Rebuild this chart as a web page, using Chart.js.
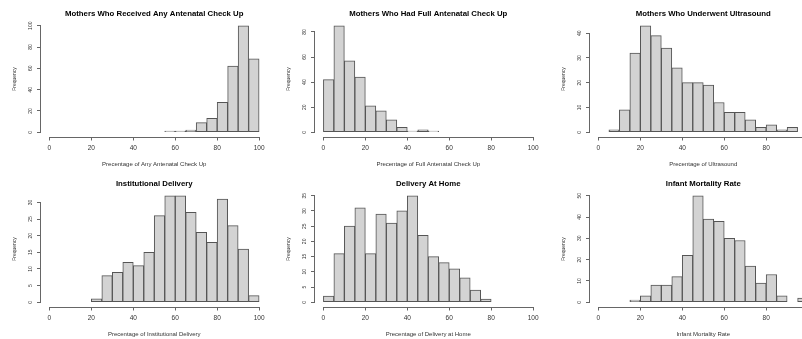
<!DOCTYPE html>
<html>
<head>
<meta charset="utf-8">
<script src="https://cdn.jsdelivr.net/npm/chart.js@4/dist/chart.umd.min.js"></script>
<style>
  body { margin: 0; background: #fff; width: 802px; height: 339px; overflow: hidden; position: relative; }
  .panel { position: absolute; width: 274px; height: 170px; }
</style>
</head>
<body>
<div class="panel" style="left:0;top:0"><canvas id="anc" width="274" height="170"></canvas></div>
<div class="panel" style="left:274px;top:0"><canvas id="fullAnc" width="274" height="170"></canvas></div>
<div class="panel" style="left:549px;top:0"><canvas id="usg" width="274" height="170"></canvas></div>
<div class="panel" style="left:0;top:170px"><canvas id="inst" width="274" height="170"></canvas></div>
<div class="panel" style="left:274px;top:170px"><canvas id="home" width="274" height="170"></canvas></div>
<div class="panel" style="left:549px;top:170px"><canvas id="imr" width="274" height="170"></canvas></div>
<script>
// Clases de ancho 5: limite inferior de cada clase y su frecuencia
var binWidth = 5;

var ancStarts = [55, 60, 65, 70, 75, 80, 85, 90, 95];
var ancCounts = [1, 1, 2, 9, 13, 28, 62, 100, 69];

var fullStarts = [0, 5, 10, 15, 20, 25, 30, 35, 40, 45, 50];
var fullCounts = [42, 85, 57, 44, 21, 17, 10, 4, 1, 2, 1];

var usgStarts = [5, 10, 15, 20, 25, 30, 35, 40, 45, 50, 55, 60, 65, 70, 75, 80, 85, 90];
var usgCounts = [1, 9, 32, 43, 39, 34, 26, 20, 20, 19, 12, 8, 8, 5, 2, 3, 1, 2];

var instStarts = [20, 25, 30, 35, 40, 45, 50, 55, 60, 65, 70, 75, 80, 85, 90, 95];
var instCounts = [1, 8, 9, 12, 11, 15, 26, 32, 32, 27, 21, 18, 31, 23, 16, 2];

var homeStarts = [0, 5, 10, 15, 20, 25, 30, 35, 40, 45, 50, 55, 60, 65, 70, 75];
var homeCounts = [2, 16, 25, 31, 16, 29, 26, 30, 35, 22, 15, 13, 11, 8, 4, 1];

var imrStarts = [15, 20, 25, 30, 35, 40, 45, 50, 55, 60, 65, 70, 75, 80, 85, 90, 95];
var imrCounts = [1, 3, 8, 8, 12, 22, 50, 39, 38, 30, 29, 17, 9, 13, 3, 0, 2];

// Marcas de los ejes
var xTicks = [0, 20, 40, 60, 80, 100];
var ancYTicks = [0, 20, 40, 60, 80, 100];
var fullYTicks = [0, 20, 40, 60, 80];
var usgYTicks = [0, 10, 20, 30, 40];
var instYTicks = [0, 5, 10, 15, 20, 25, 30];
var homeYTicks = [0, 5, 10, 15, 20, 25, 30, 35];
var imrYTicks = [0, 10, 20, 30, 40, 50];

var fuente = '"Liberation Sans", Arial, sans-serif';
Chart.defaults.font.family = fuente;

// Lineas de los ejes al estilo R: solo entre la primera y la ultima marca
var ejesR = {
    id: 'ejesR',
    afterDraw: function (chart) {
        var c = chart.ctx, sx = chart.scales.x, sy = chart.scales.y;
        var xt = sx.ticks, yt = sy.ticks;
        var by = Math.round(chart.chartArea.bottom) + 0.5;
        var lx = Math.round(chart.chartArea.left) - 0.5;
        c.save();
        c.strokeStyle = '#666';
        c.lineWidth = 1;
        c.beginPath();
        c.moveTo(sx.getPixelForValue(xt[0].value), by);
        c.lineTo(sx.getPixelForValue(xt[xt.length - 1].value), by);
        c.moveTo(lx, sy.getPixelForValue(yt[0].value));
        c.lineTo(lx, sy.getPixelForValue(yt[yt.length - 1].value));
        c.stroke();
        c.restore();
    }
};

function histograma(id, titulo, ejeX, starts, counts, yTicks) {
    var ctx = document.getElementById(id).getContext('2d');
    ctx.font = '5px ' + fuente;
    var widest = Math.max.apply(null, yTicks.map(function (v) { return ctx.measureText(String(v)).width; }));
    var ymax = Math.max.apply(null, counts);

    return new Chart(ctx, {
        type: 'bar',
        data: {
            datasets: [{
                data: starts.map(function (s, i) { return { x: s + binWidth / 2, y: counts[i] }; }),
                backgroundColor: '#d3d3d3',
                borderColor: '#555',
                borderWidth: 1,
                borderSkipped: false,
                barPercentage: 1,
                categoryPercentage: 1
            }]
        },
        options: {
            responsive: false,
            animation: false,
            events: [],
            layout: { padding: { left: 0, right: 6.5, top: 0, bottom: 0 } },
            plugins: {
                legend: { display: false },
                tooltip: { enabled: false },
                title: {
                    display: true,
                    fullSize: false,
                    text: titulo,
                    color: '#000',
                    font: { size: 7.8, weight: 'bold' },
                    padding: { top: 9.2, bottom: 2.9 }
                }
            },
            scales: {
                x: {
                    type: 'linear',
                    min: -4,
                    max: 104,
                    offset: false,
                    afterBuildTicks: function (s) { s.ticks = xTicks.map(function (v) { return { value: v }; }); },
                    afterFit: function (s) { s.height = 33.5; },
                    border: { display: false },
                    grid: { offset: false, drawOnChartArea: false, tickLength: 4, color: '#666' },
                    ticks: { color: '#333', font: { size: 6.5 }, padding: 4.3, maxRotation: 0, autoSkip: false },
                    title: { display: true, text: ejeX, color: '#333', font: { size: 6 }, padding: { top: 0, bottom: 2.1 } }
                },
                y: {
                    min: -0.04 * ymax,
                    max: 1.04 * ymax,
                    afterBuildTicks: function (s) { s.ticks = yTicks.map(function (v) { return { value: v }; }); },
                    afterFit: function (s) { s.width = 41; },
                    border: { display: false },
                    grid: { drawOnChartArea: false, tickLength: 4, color: '#666' },
                    ticks: { color: '#333', font: { size: 5 }, minRotation: 90, maxRotation: 90, crossAlign: 'center', padding: 6.5 - widest / 2, autoSkip: false },
                    title: { display: true, text: 'Frequency', color: '#333', font: { size: 5 }, padding: { top: 11.7, bottom: 0 } }
                }
            }
        },
        plugins: [ejesR]
    });
}

histograma('anc', 'Mothers Who Received Any Antenatal Check Up', 'Precentage of Any Antenatal Check Up', ancStarts, ancCounts, ancYTicks);
histograma('fullAnc', 'Mothers Who Had Full Antenatal Check Up', 'Precentage of Full Antenatal Check Up', fullStarts, fullCounts, fullYTicks);
histograma('usg', 'Mothers Who Underwent Ultrasound', 'Precentage of Ultrasound', usgStarts, usgCounts, usgYTicks);
histograma('inst', 'Institutional Delivery', 'Precentage of Institutional Delivery', instStarts, instCounts, instYTicks);
histograma('home', 'Delivery At Home', 'Precentage of Delivery at Home', homeStarts, homeCounts, homeYTicks);
histograma('imr', 'Infant Mortality Rate', 'Infant Mortality Rate', imrStarts, imrCounts, imrYTicks);
</script>
</body>
</html>
